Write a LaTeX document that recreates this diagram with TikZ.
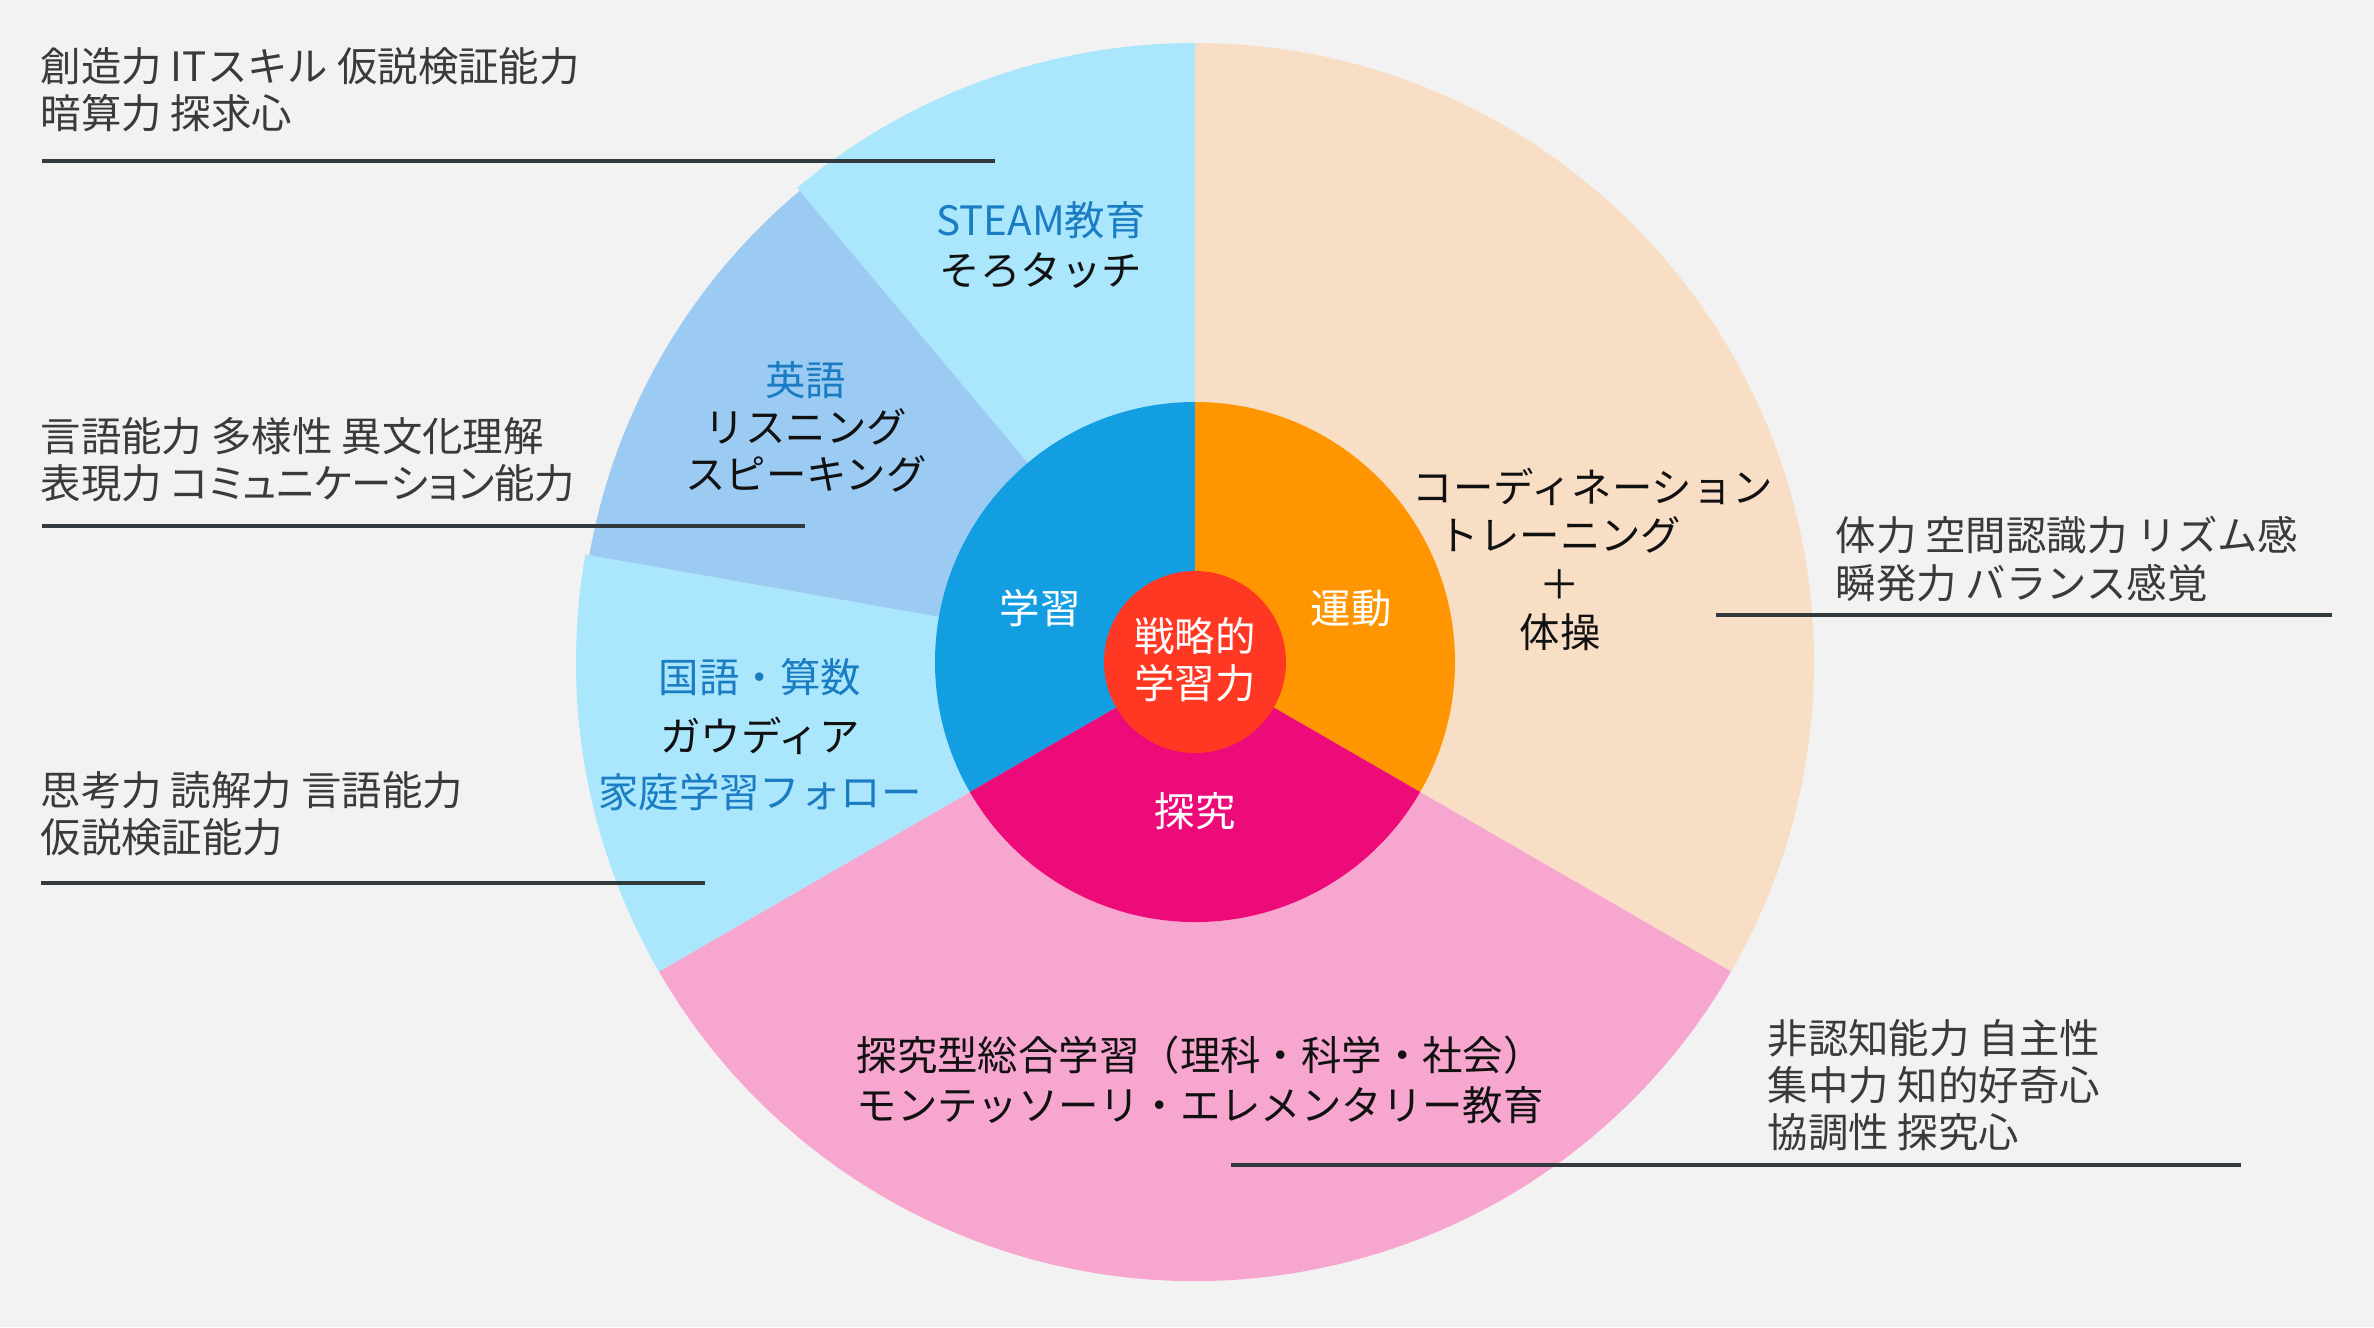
\documentclass[tikz,border=0pt]{standalone}
\usepackage{fontspec}
\setmainfont{Noto Sans CJK JP}
\definecolor{bggray}{HTML}{F2F2F2}
\definecolor{peach}{HTML}{F9DEC6}
\definecolor{pinklight}{HTML}{F7A7CF}
\definecolor{skyblue}{HTML}{ABE7FC}
\definecolor{engblue}{HTML}{9BCBF2}
\definecolor{learnblue}{HTML}{149EE2}
\definecolor{sportorange}{HTML}{FF9500}
\definecolor{inqmagenta}{HTML}{ED0A79}
\definecolor{corered}{HTML}{FF3824}
\definecolor{labelblue}{HTML}{1A7CC2}
\definecolor{inktext}{HTML}{111111}
\definecolor{notegray}{HTML}{3A3A3A}
\definecolor{rulegray}{HTML}{323A3E}
\begin{document}
\begin{tikzpicture}[scale=1.0,
  txt/.style={inner sep=0pt, text=inktext, font=\fontsize{11.5}{13.4}\selectfont},
  note/.style={txt, anchor=west, align=left, text=notegray},
  rule/.style={draw=rulegray, line width=1.4pt}]
\useasboundingbox (-11.95,-6.65) rectangle (11.79,6.62);
\fill[bggray] (-11.95,-6.65) rectangle (11.79,6.62);
\fill[peach] (0,0) -- (90:6.19) arc (90:-30:6.19) -- cycle;
\fill[pinklight] (0,0) -- (-30:6.19) arc (-30:-150:6.19) -- cycle;
\fill[skyblue] (0,0) -- (90:6.19) arc (90:130:6.19) -- cycle;
\fill[skyblue] (0,0) -- (170:6.19) arc (170:210:6.19) -- cycle;
\fill[engblue] (0,0) -- (130:6.15) arc (130:170:6.15) -- cycle;
\fill[learnblue] (0,0) -- (90:2.6) arc (90:210:2.6) -- cycle;
\fill[sportorange] (0,0) -- (90:2.6) arc (90:-30:2.6) -- cycle;
\fill[inqmagenta] (0,0) -- (210:2.6) arc (210:330:2.6) -- cycle;
\fill[corered] (0,0) circle (0.91);
\node[txt, text=white, align=center] (core) at (0,0.02) {戦略的\\学習力};
\node[txt, text=white] (learn) at (-1.55,0.54) {学習};
\node[txt, text=white] (sport) at (1.56,0.54) {運動};
\node[txt, text=white] (inquiry) at (0,-1.49) {探究};
\node[txt, align=center] (steam) at (-1.54,4.17) {\textcolor{labelblue}{STEAM教育}\\[1pt]そろタッチ};
\node[txt, align=center] (english) at (-3.89,2.35) {\textcolor{labelblue}{英語}\\リスニング\\スピーキング};
\node[txt, align=center] (kokugo) at (-4.35,-0.73) {\textcolor{labelblue}{国語・算数}\\[0.12cm]ガウディア\\[0.09cm]\textcolor{labelblue}{家庭学習フォロー}};
\node[txt] (coordline) at (3.98,1.75) {コーディネーション};
\node[txt, align=center] (training) at (3.65,0.78) {トレーニング\\[0.4pt]＋\\[0.4pt]体操};
\node[txt, anchor=west, align=left] (project) at (-3.39,-4.18) {探究型総合学習（理科・科学・社会）\\[1pt]モンテッソーリ・エレメンタリー教育};
\node[note] (skillsteam) at (-11.55,5.72) {創造力 ITスキル 仮説検証能力\\暗算力 探求心};
\node[note] (skilleng) at (-11.55,2.02) {言語能力 多様性 異文化理解\\表現力 {\addfontfeature{RawFeature=+palt}コミュニケーション}能力};
\node[note] (skillkoku) at (-11.55,-1.52) {思考力 読解力 言語能力\\仮説検証能力};
\node[note] (skillsport) at (6.40,1.03) {体力 空間認識力 リズム感\\瞬発力 バランス感覚};
\node[note] (skillinq) at (5.72,-4.23) {非認知能力 自主性\\集中力 知的好奇心\\協調性 探究心};
\draw[rule] (-11.53,5.01) -- (-2.00,5.01);
\draw[rule] (-11.53,1.36) -- (-3.90,1.36);
\draw[rule] (-11.54,-2.21) -- (-4.90,-2.21);
\draw[rule] (5.21,0.47) -- (11.37,0.47);
\draw[rule] (0.36,-5.03) -- (10.46,-5.03);
\end{tikzpicture}
\end{document}
